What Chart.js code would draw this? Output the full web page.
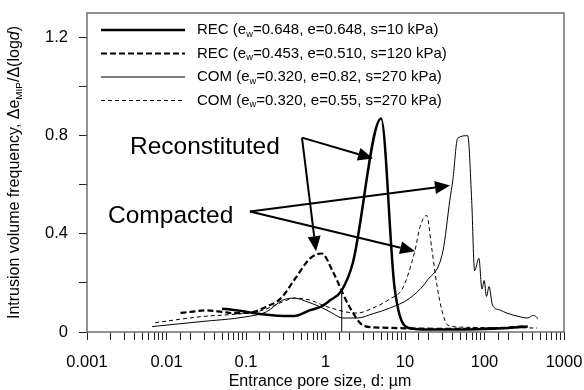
<!DOCTYPE html>
<html>
<head>
<meta charset="utf-8">
<script src="https://cdn.jsdelivr.net/npm/chart.js@4"></script>
<style>
    html, body { margin: 0; padding: 0; background: #fff; }
    #wrap { width: 584px; height: 390px; }
</style>
</head>
<body>
<div id="wrap"><canvas id="poreChart" width="584" height="390"></canvas></div>
<script>
// Pore size distribution data (d in micrometres, frequency)
const rec1D = [0.05, 0.07, 0.1, 0.15, 0.25, 0.4, 0.64, 0.9, 1.13, 1.6, 2.2, 5.0, 7.4, 11.5, 20, 50, 100, 200, 350];
const rec1Y = [0.095, 0.09, 0.083, 0.073, 0.066, 0.065, 0.089, 0.105, 0.128, 0.17, 0.28, 0.87, 0.18, 0.015, 0.01, 0.01, 0.012, 0.016, 0.022];

const rec2D = [0.015, 0.02, 0.032, 0.05, 0.07, 0.1, 0.13, 0.18, 0.27, 0.42, 0.64, 0.9, 1.24, 2.0, 3.1, 5, 10, 30, 100, 200, 330];
const rec2Y = [0.078, 0.082, 0.088, 0.082, 0.077, 0.078, 0.083, 0.103, 0.135, 0.22, 0.30, 0.32, 0.245, 0.103, 0.024, 0.018, 0.015, 0.013, 0.014, 0.018, 0.024];

const com1D = [0.0066, 0.0264, 0.1, 0.18, 0.29, 0.41, 0.6, 0.85, 1.2, 1.65, 2.5, 4, 6.4, 11.5, 19, 30, 36.6, 40, 46, 61.5, 69, 75, 85, 93, 99, 106, 114, 126, 155, 191, 280, 340, 370, 410, 470];
const com1Y = [0.022, 0.042, 0.062, 0.082, 0.13, 0.138, 0.122, 0.103, 0.078, 0.057, 0.057, 0.075, 0.097, 0.138, 0.21, 0.33, 0.536, 0.62, 0.79, 0.80, 0.536, 0.25, 0.30, 0.175, 0.21, 0.145, 0.185, 0.11, 0.09, 0.077, 0.062, 0.057, 0.06, 0.068, 0.055];

const com2D = [0.0072, 0.0264, 0.1, 0.163, 0.29, 0.41, 0.64, 1.04, 2.5, 3.9, 6.4, 9.4, 13.3, 15.5, 18.7, 21.6, 25, 29, 34.5, 50, 100, 200, 460];
const com2Y = [0.038, 0.062, 0.077, 0.089, 0.123, 0.138, 0.13, 0.103, 0.077, 0.097, 0.134, 0.18, 0.33, 0.43, 0.475, 0.346, 0.198, 0.09, 0.028, 0.02, 0.018, 0.018, 0.016];

// thin drop line at d = 1.6
const dropD = [1.6, 1.6];
const dropY = [0, 0.17];

const xTickLabels = ['0.001', '0.01', '0.1', '1', '10', '100', '1000'];
const yTickLabels = ['0', '0.4', '0.8', '1.2'];

const legendLabels = [
    ['REC (e', 'w', '=0.648, e=0.648, s=10 kPa)'],
    ['REC (e', 'w', '=0.453, e=0.510, s=120 kPa)'],
    ['COM (e', 'w', '=0.320, e=0.82, s=270 kPa)'],
    ['COM (e', 'w', '=0.320, e=0.55, s=270 kPa)']
];

// annotation text + arrows, in data coordinates
const labelRecon = { text: 'Reconstituted', d: 0.00347, y: 0.727 };
const labelComp = { text: 'Compacted', d: 0.00184, y: 0.443 };
const arrows = [
    [0.506, 0.792, 3.96, 0.707],
    [0.506, 0.792, 0.76, 0.329],
    [0.112, 0.491, 36.8, 0.597],
    [0.112, 0.491, 13.4, 0.329]
];

const FONT = '"Liberation Sans", Arial, Helvetica, sans-serif';

function toPoints(xs, ys) {
    return xs.map((x, i) => ({ x: x, y: ys[i] }));
}

const seriesStyles = [
    { width: 2.5, dash: [] },
    { width: 2.2, dash: [6, 3] },
    { width: 1, dash: [] },
    { width: 1, dash: [4, 3] }
];

// Draw text made of parts, some subscript / italic
function drawRich(ctx, parts, x, y, size) {
    let cx = x;
    parts.forEach(p => {
        const s = p.sub ? size * 0.62 : size;
        ctx.font = (p.italic ? 'italic ' : '') + s + 'px ' + FONT;
        ctx.fillText(p.t, cx, p.sub ? y + size * 0.28 : y);
        cx += ctx.measureText(p.t).width;
    });
    return cx - x;
}

function richWidth(ctx, parts, size) {
    let w = 0;
    parts.forEach(p => {
        const s = p.sub ? size * 0.62 : size;
        ctx.font = (p.italic ? 'italic ' : '') + s + 'px ' + FONT;
        w += ctx.measureText(p.t).width;
    });
    return w;
}

const decorPlugin = {
    id: 'decor',
    afterDatasetsDraw(chart) {
        const ctx = chart.ctx;
        const xs = chart.scales.x, ys = chart.scales.y;
        ctx.save();
        // annotation arrows
        ctx.strokeStyle = '#000';
        ctx.fillStyle = '#000';
        ctx.lineWidth = 2;
        ctx.setLineDash([]);
        arrows.forEach(a => {
            const x0 = xs.getPixelForValue(a[0]), y0 = ys.getPixelForValue(a[1]);
            const x1 = xs.getPixelForValue(a[2]), y1 = ys.getPixelForValue(a[3]);
            const ang = Math.atan2(y1 - y0, x1 - x0);
            const headL = 15, headW = 6.5;
            const bx = x1 - headL * Math.cos(ang), by = y1 - headL * Math.sin(ang);
            ctx.beginPath();
            ctx.moveTo(x0, y0);
            ctx.lineTo(bx, by);
            ctx.stroke();
            ctx.beginPath();
            ctx.moveTo(x1, y1);
            ctx.lineTo(bx + headW * Math.sin(ang), by - headW * Math.cos(ang));
            ctx.lineTo(bx - headW * Math.sin(ang), by + headW * Math.cos(ang));
            ctx.closePath();
            ctx.fill();
        });
        ctx.font = '24.5px ' + FONT;
        ctx.textBaseline = 'alphabetic';
        ctx.textAlign = 'left';
        [labelRecon, labelComp].forEach(l => {
            ctx.fillText(l.text, xs.getPixelForValue(l.d), ys.getPixelForValue(l.y));
        });
        ctx.restore();
    },
    afterDraw(chart) {
        const ctx = chart.ctx;
        const area = chart.chartArea;
        ctx.save();
        ctx.setLineDash([]);
        // frame
        ctx.strokeStyle = '#6e6e6e';
        ctx.lineWidth = 1.5;
        ctx.strokeRect(area.left, area.top, area.right - area.left, area.bottom - area.top);

        // legend
        ctx.fillStyle = '#000';
        ctx.textBaseline = 'middle';
        ctx.textAlign = 'left';
        legendLabels.forEach((lab, i) => {
            const y = 30 + i * 23.5;
            const st = seriesStyles[i];
            ctx.strokeStyle = '#000';
            ctx.lineWidth = st.width;
            ctx.setLineDash(st.dash);
            ctx.beginPath();
            ctx.moveTo(101, y);
            ctx.lineTo(185, y);
            ctx.stroke();
            ctx.setLineDash([]);
            drawRich(ctx, [{ t: lab[0] }, { t: lab[1], sub: true }, { t: lab[2] }], 197, y, 15);
        });

        // x title
        const xParts = [{ t: 'Entrance pore size, d: \u00b5m' }];
        const xw = richWidth(ctx, xParts, 16);
        drawRich(ctx, xParts, 320 - xw / 2, 382, 16);

        // y title
        const yParts = [
            { t: 'Intrusion volume frequency, \u0394e' },
            { t: 'MIP', sub: true },
            { t: '/\u0394(log' },
            { t: 'd', italic: true },
            { t: ')' }
        ];
        ctx.translate(15, (area.top + area.bottom) / 2);
        ctx.rotate(-Math.PI / 2);
        const yw = richWidth(ctx, yParts, 16);
        drawRich(ctx, yParts, -yw / 2, 0, 16);
        ctx.restore();
    }
};

const datasets = [
    [rec1D, rec1Y], [rec2D, rec2Y], [com1D, com1Y], [com2D, com2Y]
].map((s, i) => ({
    data: toPoints(s[0], s[1]),
    borderColor: '#000',
    borderWidth: seriesStyles[i].width,
    borderDash: seriesStyles[i].dash,
    pointRadius: 0,
    fill: false,
    cubicInterpolationMode: 'monotone'
}));
datasets.push({
    data: toPoints(dropD, dropY),
    borderColor: '#000',
    borderWidth: 1,
    pointRadius: 0,
    fill: false
});

function isDecade(v) {
    const lg = Math.log10(v);
    return Math.abs(lg - Math.round(lg)) < 1e-6;
}

new Chart(document.getElementById('poreChart'), {
    type: 'line',
    data: { datasets: datasets },
    options: {
        responsive: false,
        animation: false,
        devicePixelRatio: 1,
        layout: { padding: { top: 13, right: 20, left: 0, bottom: 0 } },
        plugins: { legend: { display: false }, tooltip: { enabled: false } },
        scales: {
            x: {
                type: 'logarithmic',
                min: 0.001,
                max: 1000,
                grid: {
                    display: true,
                    drawOnChartArea: false,
                    drawTicks: true,
                    tickLength: 8,
                    tickColor: '#222',
                    tickWidth: 1,
                    color: '#222'
                },
                border: { display: false },
                ticks: {
                    autoSkip: false,
                    maxRotation: 0,
                    padding: 13,
                    color: '#000',
                    font: { family: FONT, size: 16.5 },
                    callback: function (v) {
                        if (!isDecade(v)) return '';
                        return xTickLabels[Math.round(Math.log10(v)) + 3] || '';
                    }
                },
                afterFit: function (s) {
                    s.height = 58;
                    s.paddingLeft = 0;
                    s.paddingRight = 0;
                }
            },
            y: {
                min: 0,
                max: 1.3,
                grid: {
                    display: true,
                    drawOnChartArea: false,
                    drawTicks: true,
                    tickLength: 8,
                    tickColor: '#222',
                    tickWidth: 1,
                    color: '#222'
                },
                border: { display: false },
                ticks: {
                    stepSize: 0.2,
                    includeBounds: false,
                    padding: 11,
                    color: '#000',
                    font: { family: FONT, size: 16.5 },
                    callback: function (v) {
                        const k = v / 0.4;
                        if (Math.abs(k - Math.round(k)) > 1e-6) return '';
                        return yTickLabels[Math.round(k)] || '';
                    }
                },
                afterFit: function (s) {
                    s.width = 87;
                    s.paddingTop = 0;
                    s.paddingBottom = 0;
                }
            }
        }
    },
    plugins: [decorPlugin]
});
</script>
</body>
</html>
